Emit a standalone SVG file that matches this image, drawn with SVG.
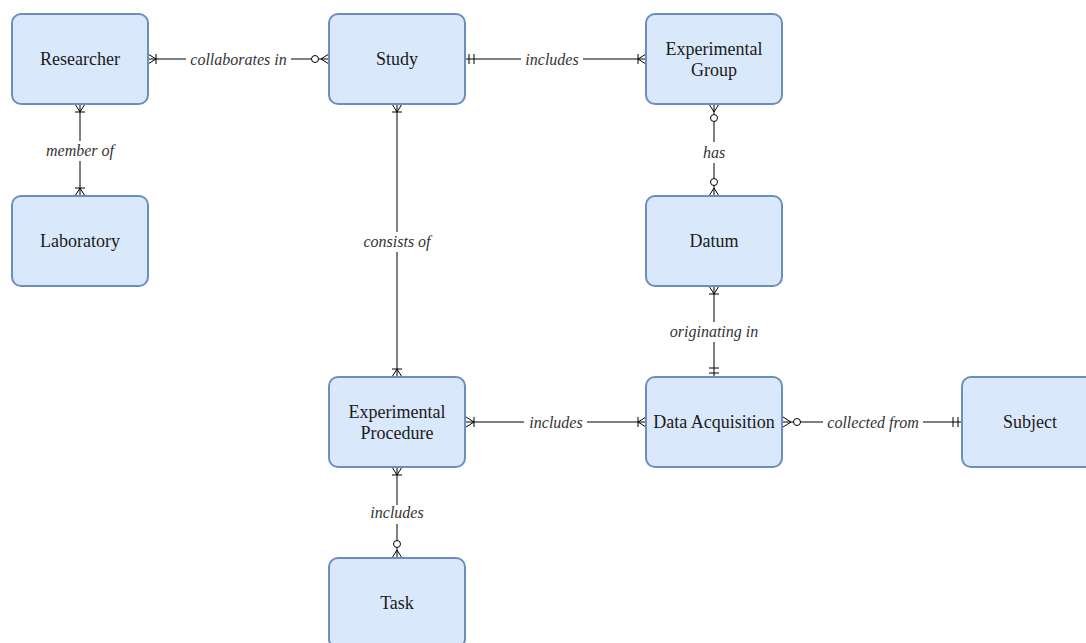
<svg xmlns="http://www.w3.org/2000/svg" width="1086" height="643" viewBox="0 0 1086 643">
<style>
.node rect{fill:#dae8fc;stroke:#6c8ebf;stroke-width:2}
.node text{font-family:'Liberation Serif','Times New Roman','DejaVu Serif',serif;font-size:18px;fill:#1a1a1a;text-anchor:middle}
.edge{fill:none;stroke:#000;stroke-width:1}
.lbl{font-family:'Liberation Serif','Times New Roman','DejaVu Serif',serif;font-size:16px;font-style:italic;fill:#333;text-anchor:middle}
</style>
<defs>
<marker id="oneMany" markerUnits="userSpaceOnUse" orient="auto-start-reverse" overflow="visible" markerWidth="20" markerHeight="20" refX="0" refY="0">
<path d="M0,-5 L-8,0 L0,5 M-8,-5 L-8,5" fill="none" stroke="#000" stroke-width="1"/>
</marker>
<marker id="zeroMany" markerUnits="userSpaceOnUse" orient="auto-start-reverse" overflow="visible" markerWidth="20" markerHeight="20" refX="0" refY="0">
<path d="M0,-5 L-8,0 L0,5" fill="none" stroke="#000" stroke-width="1"/>
<circle cx="-14" cy="0" r="3.5" fill="#fff" stroke="#000" stroke-width="1"/>
</marker>
<marker id="mandOne" markerUnits="userSpaceOnUse" orient="auto-start-reverse" overflow="visible" markerWidth="20" markerHeight="20" refX="0" refY="0">
<path d="M-4,-5 L-4,5 M-9,-5 L-9,5" fill="none" stroke="#000" stroke-width="1"/>
</marker>
</defs>
<g id="connectors">
<path class="edge" d="M148,59 H186 M291,59 H329" marker-start="url(#oneMany)" marker-end="url(#zeroMany)"/>
<text class="lbl" x="238.5" y="65" font-family="Liberation Serif, serif">collaborates in</text>
<path class="edge" d="M465,59 H521 M583,59 H646" marker-start="url(#mandOne)" marker-end="url(#oneMany)"/>
<text class="lbl" x="552" y="65">includes</text>
<path class="edge" d="M80,104 V141 M80,161 V196" marker-start="url(#oneMany)" marker-end="url(#oneMany)"/>
<text class="lbl" x="80" y="156">member of</text>
<path class="edge" d="M397,104 V232 M397,252 V377" marker-start="url(#oneMany)" marker-end="url(#oneMany)"/>
<text class="lbl" x="397" y="247">consists of</text>
<path class="edge" d="M714,104 V142 M714,163 V196" marker-start="url(#zeroMany)" marker-end="url(#zeroMany)"/>
<text class="lbl" x="714" y="158">has</text>
<path class="edge" d="M714,286 V322 M714,342 V377" marker-start="url(#oneMany)" marker-end="url(#mandOne)"/>
<text class="lbl" x="714" y="337">originating in</text>
<path class="edge" d="M466,422 H524 M587,422 H646" marker-start="url(#oneMany)" marker-end="url(#oneMany)"/>
<text class="lbl" x="556" y="428">includes</text>
<path class="edge" d="M783,422 H823 M923,422 H962" marker-start="url(#zeroMany)" marker-end="url(#mandOne)"/>
<text class="lbl" x="873" y="428">collected from</text>
<path class="edge" d="M397,467 V505 M397,524 V558" marker-start="url(#oneMany)" marker-end="url(#zeroMany)"/>
<text class="lbl" x="397" y="518">includes</text>
</g>
<g id="researcher" class="node"><rect x="12" y="14" width="136" height="90" rx="9"/><text x="80" y="65" font-family="Liberation Serif, serif">Researcher</text></g>
<g id="study" class="node"><rect x="329" y="14" width="136" height="90" rx="9"/><text x="397" y="65">Study</text></g>
<g id="experimental-group" class="node"><rect x="646" y="14" width="136" height="90" rx="9"/><text x="714" y="55">Experimental</text><text x="714" y="76">Group</text></g>
<g id="laboratory" class="node"><rect x="12" y="196" width="136" height="90" rx="9"/><text x="80" y="247">Laboratory</text></g>
<g id="datum" class="node"><rect x="646" y="196" width="136" height="90" rx="9"/><text x="714" y="247">Datum</text></g>
<g id="experimental-procedure" class="node"><rect x="329" y="377" width="136" height="90" rx="9"/><text x="397" y="418">Experimental</text><text x="397" y="439">Procedure</text></g>
<g id="data-acquisition" class="node"><rect x="646" y="377" width="136" height="90" rx="9"/><text x="714" y="428">Data Acquisition</text></g>
<g id="subject" class="node"><rect x="962" y="377" width="136" height="90" rx="9"/><text x="1030" y="428">Subject</text></g>
<g id="task" class="node"><rect x="329" y="558" width="136" height="90" rx="9"/><text x="397" y="609">Task</text></g>
</svg>
